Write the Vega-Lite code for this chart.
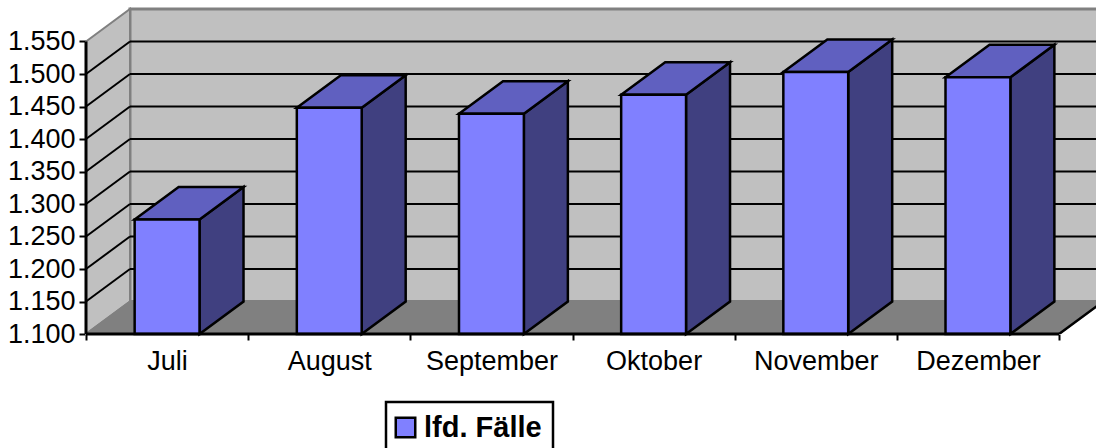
{
"$schema":"https://vega.github.io/schema/vega-lite/v6.json",
"width":1010,"height":325,
"autosize":{"type":"none"},
"padding":{"left":86,"top":9,"right":0,"bottom":114},
"background":"white",
"config":{"view":{"stroke":null},"font":"Liberation Sans"},
"resolve":{"axis":{"x":"independent","y":"independent"}},
"datasets":{
"monate":[
{"Monat":"Juli","Wert":1276,"Serie":"lfd. Fälle"},
{"Monat":"August","Wert":1448,"Serie":"lfd. Fälle"},
{"Monat":"September","Wert":1439,"Serie":"lfd. Fälle"},
{"Monat":"Oktober","Wert":1468,"Serie":"lfd. Fälle"},
{"Monat":"November","Wert":1503,"Serie":"lfd. Fälle"},
{"Monat":"Dezember","Wert":1495,"Serie":"lfd. Fälle"}],
"raster":[{"v":1150},{"v":1200},{"v":1250},{"v":1300},{"v":1350},{"v":1400},{"v":1450},{"v":1500}],
"wand":[{"Teil":"Wand"}]
},
"layer":[
{"data":{"name":"wand"},
"mark":{"type":"rect","fill":"#C0C0C0","stroke":"#808080","strokeWidth":3},
"encoding":{
"x":{"datum":0.2713,"type":"quantitative","scale":{"domain":[0,6.228],"nice":false,"zero":false},
"axis":{"title":null,"values":[0,0.5,1,1.5,2,2.5,3,3.5,4,4.5,5,5.5,6],"grid":false,"domain":false,"tickColor":"black","tickWidth":2,"tickSize":6,
"tickOpacity":{"condition":{"test":"datum.value % 1 == 0","value":1},"value":0},
"labelExpr":"datum.value % 1 == 0 ? '' : ['Juli','August','September','Oktober','November','Dezember'][floor(datum.value)]",
"labelFont":"Liberation Sans","labelFontSize":27,"labelColor":"black","labelPadding":8,"labelFlush":false,"labelOverlap":false}},
"x2":{"datum":6.4},
"y":{"datum":1150,"type":"quantitative","scale":{"domain":[1100,1600],"nice":false,"zero":false},
"axis":{"title":null,"values":[1100,1150,1200,1250,1300,1350,1400,1450,1500,1550],"grid":false,"domain":false,"tickColor":"black","tickWidth":2,"tickSize":7,
"labelExpr":"replace(format(datum.value,','),',','.')",
"labelFont":"Liberation Sans","labelFontSize":27,"labelColor":"black","labelPadding":4,"labelOverlap":false}},
"y2":{"datum":1600}}},
{"data":{"name":"wand"},
"transform":[{"calculate":"[0,1]","as":"k"},{"flatten":["k"]},
{"calculate":"datum.k*0.2713","as":"xp"},{"calculate":"1100+50*datum.k","as":"yu"},{"calculate":"1550+50*datum.k","as":"yo"}],
"mark":{"type":"area","fill":"#C0C0C0","stroke":"#808080","strokeWidth":2,"fillOpacity":1},
"encoding":{
"x":{"field":"xp","type":"quantitative","scale":{"domain":[0,6.228],"nice":false,"zero":false},"axis":null},
"y":{"field":"yo","type":"quantitative","scale":{"domain":[1100,1600],"nice":false,"zero":false},"axis":null},
"y2":{"field":"yu"}}},
{"data":{"name":"wand"},
"transform":[{"calculate":"[0,1]","as":"k"},{"flatten":["k"]},
{"calculate":"datum.k*0.2713","as":"xl"},{"calculate":"6+datum.k*0.2713","as":"xr"},{"calculate":"1100+50*datum.k","as":"yy"}],
"mark":{"type":"area","orient":"horizontal","fill":"#808080","stroke":"#808080","strokeWidth":2,"clip":true},
"encoding":{
"y":{"field":"yy","type":"quantitative","scale":{"domain":[1100,1600],"nice":false,"zero":false},"axis":null},
"x":{"field":"xl","type":"quantitative","scale":{"domain":[0,6.228],"nice":false,"zero":false},"axis":null},
"x2":{"field":"xr"}}},
{"data":{"name":"raster"},
"transform":[{"calculate":"datum.v+50","as":"vb"}],
"mark":{"type":"rule","color":"black","strokeWidth":2,"clip":true},
"encoding":{
"x":{"datum":0.2713,"type":"quantitative","scale":{"domain":[0,6.228],"nice":false,"zero":false},"axis":null},
"x2":{"datum":6.4},
"y":{"field":"vb","type":"quantitative","scale":{"domain":[1100,1600],"nice":false,"zero":false},"axis":null}}},
{"data":{"name":"raster"},
"transform":[{"calculate":"datum.v+50","as":"vb"}],
"mark":{"type":"rule","color":"black","strokeWidth":2},
"encoding":{
"x":{"datum":0,"type":"quantitative","scale":{"domain":[0,6.228],"nice":false,"zero":false},"axis":null},
"x2":{"datum":0.2713},
"y":{"field":"v","type":"quantitative","scale":{"domain":[1100,1600],"nice":false,"zero":false},"axis":null},
"y2":{"field":"vb"}}},
{"data":{"name":"monate"},
"transform":[
{"calculate":"indexof(['Juli','August','September','Oktober','November','Dezember'],datum.Monat)","as":"i"},
{"calculate":"[0,1]","as":"k"},{"flatten":["k"]},
{"calculate":"datum.i+0.7+datum.k*0.2713","as":"xp"},
{"calculate":"datum.Wert+50*datum.k","as":"yo"},
{"calculate":"1100+50*datum.k","as":"yu"}],
"mark":{"type":"area","fill":"#404080","stroke":"black","strokeWidth":2.5,"strokeJoin":"miter"},
"encoding":{
"detail":{"field":"Monat"},
"x":{"field":"xp","type":"quantitative","scale":{"domain":[0,6.228],"nice":false,"zero":false},"axis":null},
"y":{"field":"yo","type":"quantitative","scale":{"domain":[1100,1600],"nice":false,"zero":false},"axis":null},
"y2":{"field":"yu"}}},
{"data":{"name":"monate"},
"transform":[
{"calculate":"indexof(['Juli','August','September','Oktober','November','Dezember'],datum.Monat)","as":"i"},
{"calculate":"[0,1]","as":"k"},{"flatten":["k"]},
{"calculate":"datum.i+0.3+datum.k*0.2713","as":"xl"},
{"calculate":"datum.i+0.7+datum.k*0.2713","as":"xr"},
{"calculate":"datum.Wert+50*datum.k","as":"yy"}],
"mark":{"type":"area","orient":"horizontal","fill":"#6060C0","stroke":"black","strokeWidth":2.5,"strokeJoin":"miter"},
"encoding":{
"detail":{"field":"Monat"},
"y":{"field":"yy","type":"quantitative","scale":{"domain":[1100,1600],"nice":false,"zero":false},"axis":null},
"x":{"field":"xl","type":"quantitative","scale":{"domain":[0,6.228],"nice":false,"zero":false},"axis":null},
"x2":{"field":"xr"}}},
{"data":{"name":"monate"},
"transform":[
{"calculate":"indexof(['Juli','August','September','Oktober','November','Dezember'],datum.Monat)","as":"i"},
{"calculate":"datum.i+0.3","as":"xl"},
{"calculate":"datum.i+0.7","as":"xr"}],
"mark":{"type":"rect","stroke":"black","strokeWidth":2.5},
"encoding":{
"x":{"field":"xl","type":"quantitative","scale":{"domain":[0,6.228],"nice":false,"zero":false},"axis":null},
"x2":{"field":"xr"},
"y":{"field":"Wert","type":"quantitative","scale":{"domain":[1100,1600],"nice":false,"zero":false},"axis":null},
"y2":{"datum":1100},
"color":{"field":"Serie","type":"nominal","scale":{"range":["#8080FF"]},
"legend":{"title":null,"orient":"none","legendX":300,"legendY":393,"symbolType":"square","symbolSize":380,"symbolStrokeColor":"black","symbolStrokeWidth":2.5,"symbolOpacity":1,"symbolFillColor":"#8080FF","symbolOffset":-6,
"labelFont":"Liberation Sans","labelFontWeight":"bold","labelFontSize":29,"labelColor":"black","labelOffset":4,"padding":11,"strokeColor":"black","fillColor":"white",
"encode":{"legend":{"update":{"strokeWidth":{"value":2.5}}}}}}}},
{"data":{"name":"wand"},
"mark":{"type":"rule","color":"black","strokeWidth":3},
"encoding":{
"x":{"datum":0,"type":"quantitative","scale":{"domain":[0,6.228],"nice":false,"zero":false},"axis":null},
"y":{"datum":1100,"type":"quantitative","scale":{"domain":[1100,1600],"nice":false,"zero":false},"axis":null},
"y2":{"datum":1550}}},
{"data":{"name":"wand"},
"mark":{"type":"rule","color":"black","strokeWidth":3},
"encoding":{
"x":{"datum":0,"type":"quantitative","scale":{"domain":[0,6.228],"nice":false,"zero":false},"axis":null},
"x2":{"datum":6},
"y":{"datum":1100,"type":"quantitative","scale":{"domain":[1100,1600],"nice":false,"zero":false},"axis":null}}},
{"data":{"name":"wand"},
"mark":{"type":"rule","color":"black","strokeWidth":2.5,"clip":true},
"encoding":{
"x":{"datum":6,"type":"quantitative","scale":{"domain":[0,6.228],"nice":false,"zero":false},"axis":null},
"x2":{"datum":6.2713},
"y":{"datum":1100,"type":"quantitative","scale":{"domain":[1100,1600],"nice":false,"zero":false},"axis":null},
"y2":{"datum":1150}}}
]
}
